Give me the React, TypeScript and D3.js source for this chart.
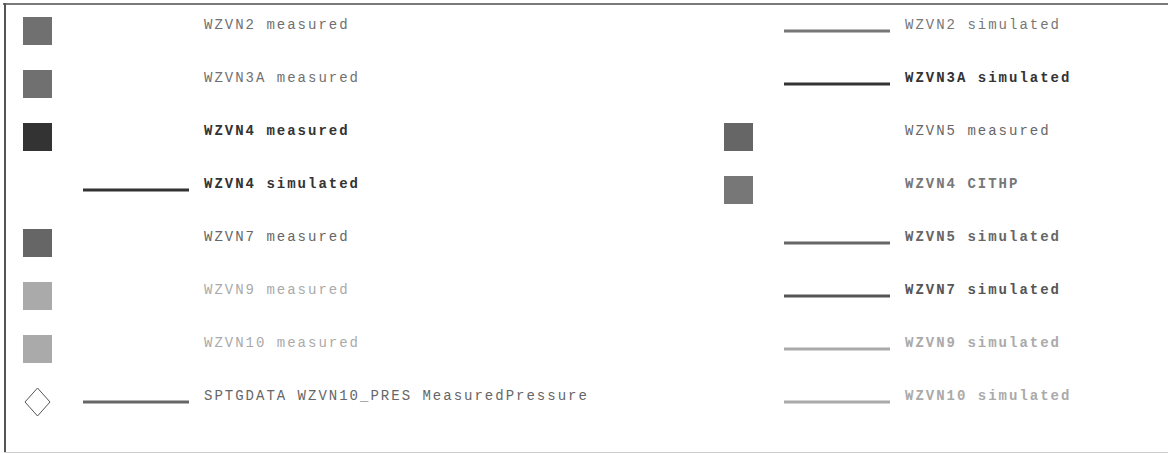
import React, { useEffect, useRef } from "react";
import * as d3 from "d3";

const leftLabels = [
  "WZVN2 measured",
  "WZVN3A measured",
  "WZVN4 measured",
  "WZVN4 simulated",
  "WZVN7 measured",
  "WZVN9 measured",
  "WZVN10 measured",
  "SPTGDATA WZVN10_PRES MeasuredPressure",
];
const leftKinds = ["square", "square", "square", "line", "square", "square", "square", "diamondline"];
const leftColors = ["#707070", "#707070", "#333333", "#333333", "#666666", "#aaaaaa", "#aaaaaa", "#666666"];
const leftBold = [false, false, true, true, false, false, false, false];

const rightLabels = [
  "WZVN2 simulated",
  "WZVN3A simulated",
  "WZVN5 measured",
  "WZVN4 CITHP",
  "WZVN5 simulated",
  "WZVN7 simulated",
  "WZVN9 simulated",
  "WZVN10 simulated",
];
const rightKinds = ["line", "line", "square", "square", "line", "line", "line", "line"];
const rightColors = ["#777777", "#333333", "#666666", "#777777", "#666666", "#555555", "#aaaaaa", "#aaaaaa"];
const rightBold = [false, true, false, true, true, true, true, true];

const W = 1168;
const H = 453;

export default function App() {
  const ref = useRef<SVGSVGElement>(null);
  useEffect(() => {
    const svg = d3.select(ref.current);
    svg.selectAll("*").remove();

    const rows = d3.range(8);
    const y = d3.scalePoint<number>().domain(rows).range([31, 402]);
    const colX = d3.scaleOrdinal<number, number>().domain([0, 1]).range([0, 701]);

    // frame
    svg.append("line").attr("x1", 3).attr("x2", W).attr("y1", 4).attr("y2", 4).attr("stroke", "#7a7a7a").attr("stroke-width", 2);
    svg.append("line").attr("x1", 5).attr("x2", 5).attr("y1", 3).attr("y2", H).attr("stroke", "#555555").attr("stroke-width", 2);
    svg.append("line").attr("x1", 4).attr("x2", W).attr("y1", 452.5).attr("y2", 452.5).attr("stroke", "#cccccc").attr("stroke-width", 1);

    const cols = [
      { labels: leftLabels, kinds: leftKinds, colors: leftColors, bold: leftBold },
      { labels: rightLabels, kinds: rightKinds, colors: rightColors, bold: rightBold },
    ];

    cols.forEach((c, ci) => {
      const ox = colX(ci);
      const items = c.labels.map((label, i) => ({ label, kind: c.kinds[i], color: c.colors[i], bold: c.bold[i], i }));
      const g = svg.append("g").attr("transform", `translate(${ox},0)`);
      const it = g.selectAll("g.item").data(items).join("g").attr("class", "item")
        .attr("transform", (d) => `translate(0,${y(d.i)})`);

      it.filter((d) => d.kind === "square").append("rect")
        .attr("x", 23).attr("y", -14).attr("width", 29).attr("height", 28)
        .attr("fill", (d) => d.color);

      it.filter((d) => d.kind === "line" || d.kind === "diamondline").append("line")
        .attr("x1", 83).attr("x2", 189).attr("y1", 0).attr("y2", 0)
        .attr("stroke", (d) => d.color).attr("stroke-width", 3);

      it.filter((d) => d.kind === "diamondline").append("path")
        .attr("d", "M37.5,-14 L50,0 L37.5,14 L25,0 Z")
        .attr("fill", "#ffffff").attr("stroke", "#555555").attr("stroke-width", 1);

      it.append("text")
        .attr("x", 204).attr("y", -2)
        .attr("font-family", "'Liberation Mono', 'Courier New', monospace")
        .attr("font-size", 14)
        .attr("letter-spacing", 2)
        .attr("font-weight", (d) => (d.bold ? "bold" : "normal"))
        .attr("fill", (d) => d.color)
        .text((d) => d.label);
    });
  }, []);

  return (
    <svg ref={ref} width={W} height={H} style={{ position: "absolute", left: 0, top: 0, background: "#ffffff" }} />
  );
}
